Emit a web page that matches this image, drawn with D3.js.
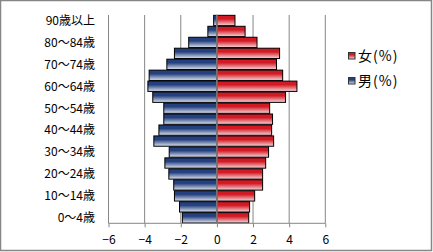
<!DOCTYPE html>
<html lang="ja">
<head>
<meta charset="UTF-8">
<script src="https://cdn.jsdelivr.net/npm/d3@7"></script>
<style>
  body { margin: 0; background: #fff; }
  svg { display: block; }
  text { font-family: "Noto Sans CJK JP", "Noto Sans", sans-serif; fill: #000; }
</style>
</head>
<body>
<svg width="433" height="252"></svg>
<script>
// age groups, bottom to top
const ages = ["0〜4歳", "5〜9歳", "10〜14歳", "15〜19歳", "20〜24歳", "25〜29歳", "30〜34歳",
  "35〜39歳", "40〜44歳", "45〜49歳", "50〜54歳", "55〜59歳", "60〜64歳", "65〜69歳",
  "70〜74歳", "75〜79歳", "80〜84歳", "85〜89歳", "90歳以上"];
const male = [1.91, 2.07, 2.35, 2.39, 2.66, 2.88, 2.64, 3.49, 3.21, 2.94, 2.94, 3.55, 3.82, 3.75,
  2.77, 2.35, 1.56, 0.5, 0.18];
const female = [1.76, 1.81, 2.09, 2.53, 2.53, 2.7, 2.86, 3.14, 3.03, 3.08, 2.92, 3.8, 4.43, 3.64,
  3.3, 3.47, 2.22, 1.56, 1.0];
const xTicks = [-6, -4, -2, 0, 2, 4, 6];
const series = [
  { name: "女(%)", grad: "gradF" },
  { name: "男(%)", grad: "gradM" }
];

const svg = d3.select("svg");

// outer border
svg.append("rect")
  .attr("x", 0.5).attr("y", 0.5)
  .attr("width", 431).attr("height", 250)
  .attr("fill", "#fff")
  .attr("stroke", "#868686")
  .attr("stroke-width", 1.5);

const defs = svg.append("defs");
function grad(id, dark, light) {
  const g = defs.append("linearGradient").attr("id", id)
    .attr("x1", 0).attr("y1", 0).attr("x2", 0).attr("y2", 1);
  g.append("stop").attr("offset", "0%").attr("stop-color", dark);
  g.append("stop").attr("offset", "35%").attr("stop-color", dark);
  g.append("stop").attr("offset", "100%").attr("stop-color", light);
}
grad("gradM", "#24407e", "#dfe4ef");
grad("gradF", "#d21a24", "#f6d8dc");

const x = d3.scaleLinear().domain([-6, 6]).range([108.5, 325.3]);
const y = d3.scaleBand().domain(ages.slice().reverse()).range([15, 223.3]).paddingInner(0.06).paddingOuter(0.03);

// gridlines
svg.append("g").selectAll("line")
  .data(xTicks.filter(t => t !== 0))
  .join("line")
  .attr("x1", d => x(d)).attr("x2", d => x(d))
  .attr("y1", 15).attr("y2", 223.3)
  .attr("stroke", "#868686");

// male bars
svg.append("g").selectAll("rect")
  .data(ages.map((a, i) => ({ a, v: male[i] })))
  .join("rect")
  .attr("x", d => x(-d.v)).attr("width", d => x(0) - x(-d.v))
  .attr("y", d => y(d.a)).attr("height", y.bandwidth())
  .attr("fill", "url(#gradM)")
  .attr("stroke", "#000").attr("stroke-width", 1);

// female bars
svg.append("g").selectAll("rect")
  .data(ages.map((a, i) => ({ a, v: female[i] })))
  .join("rect")
  .attr("x", x(0)).attr("width", d => x(d.v) - x(0))
  .attr("y", d => y(d.a)).attr("height", y.bandwidth())
  .attr("fill", "url(#gradF)")
  .attr("stroke", "#000").attr("stroke-width", 1);

// zero axis line
svg.append("line")
  .attr("x1", x(0)).attr("x2", x(0))
  .attr("y1", 15).attr("y2", 223.3)
  .attr("stroke", "#868686").attr("stroke-width", 1.5);

// bottom axis
const xAxis = svg.append("g")
  .attr("transform", "translate(0,223.3)")
  .call(d3.axisBottom(x).tickValues(xTicks).tickSize(4).tickPadding(8).tickFormat(d3.format("d")));
xAxis.select(".domain").attr("stroke", "#868686").attr("d", `M${x(-6)},0H${x(6)}`);
xAxis.selectAll(".tick line").attr("stroke", "#868686");
xAxis.selectAll("text").style("font-size", "12px").attr("fill", "#000")
  .style("font-family", "'Noto Sans CJK JP', sans-serif");

// category labels (every other)
svg.append("g").selectAll("text")
  .data(ages.filter((a, i) => i % 2 === 0))
  .join("text")
  .attr("x", 95)
  .attr("y", d => y(d) + y.bandwidth() / 2)
  .attr("dy", "0.36em")
  .attr("text-anchor", "end")
  .style("font-size", "12px")
  .text(d => d);

// legend
const leg = svg.append("g").selectAll("g")
  .data(series)
  .join("g")
  .attr("transform", (d, i) => `translate(348,${52 + i * 25})`);
leg.append("rect")
  .attr("x", 0.5).attr("y", 0.5).attr("width", 6.5).attr("height", 6.5)
  .attr("fill", d => `url(#${d.grad})`)
  .attr("stroke", "#333");
leg.append("text")
  .attr("x", 10).attr("y", 8.5)
  .style("font-size", "14px")
  .style("letter-spacing", "1px")
  .text(d => d.name);
</script>
</body>
</html>
